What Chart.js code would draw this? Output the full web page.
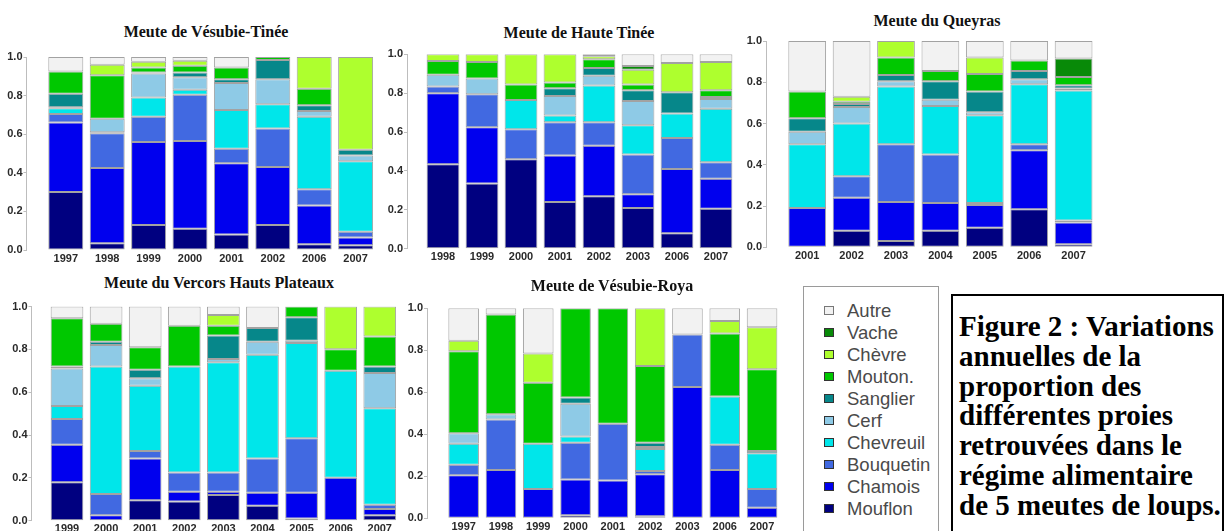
<!DOCTYPE html>
<html><head><meta charset="utf-8">
<script src="https://cdn.jsdelivr.net/npm/chart.js@4.4.0/dist/chart.umd.min.js"></script>
<style>
html,body{margin:0;padding:0;background:#fff;width:1225px;height:531px;overflow:hidden;position:relative}
canvas{position:absolute}
.ttl{position:absolute;font:bold 16px "Liberation Serif","Times New Roman",serif;color:#111;white-space:nowrap;transform:translate(-50%,-50%)}
#legend{position:absolute;left:803px;top:286px;width:136px;height:270px;border:1px solid #9a9a9a;box-sizing:border-box}
.li{position:absolute;left:0;width:136px;height:22px}
.sw{position:absolute;left:20px;top:6px;width:10px;height:9px;box-sizing:border-box;border:1px solid #333}
.lt{position:absolute;left:43px;top:0;line-height:22px;font:18.5px "Liberation Sans",Arial,sans-serif;color:#4a4a4a;white-space:nowrap}
#fig{position:absolute;left:951px;top:294px;width:273px;height:270px;border:2px solid #000;box-sizing:border-box;font:bold 29px "Liberation Serif","Times New Roman",serif;line-height:29.8px;padding:16px 0 0 6px;color:#000;white-space:nowrap}
</style>
</head><body>
<div id="fig">Figure 2 : Variations<br>annuelles de la<br>proportion des<br>différentes proies<br>retrouvées dans le<br>régime alimentaire<br>de 5 meutes de loups.</div>
<div id="legend"></div>
<script>
// ---- species (stack order bottom -> top) ----
const species = ['Mouflon','Chamois','Bouquetin','Chevreuil','Cerf','Sanglier','Mouton','Chèvre','Vache','Autre'];
const legendLabels = ['Mouflon','Chamois','Bouquetin','Chevreuil','Cerf','Sanglier','Mouton.','Chèvre','Vache','Autre'];
const speciesColors = ['#000080','#0000ee','#4169e1','#00e6ea','#8ecae6','#06878a','#00c800','#aeff2e','#088a08','#f2f2f2'];
const yTickLabels = ['0.0','0.2','0.4','0.6','0.8','1.0'];

// ---- Meute de Vésubie-Tinée ----
const vtYears = ['1997','1998','1999','2000','2001','2002','2006','2007'];
const vtMouflon   = [0.30, 0.035, 0.13, 0.11, 0.08, 0.13, 0.03, 0.025];
const vtChamois   = [0.36, 0.39, 0.43, 0.455, 0.37, 0.30, 0.20, 0.04];
const vtBouquetin = [0.045, 0.18, 0.13, 0.24, 0.075, 0.20, 0.085, 0.03];
const vtChevreuil = [0.03, 0.005, 0.10, 0.025, 0.20, 0.125, 0.375, 0.365];
const vtCerf      = [0.005, 0.07, 0.125, 0.065, 0.14, 0.13, 0.03, 0.03];
const vtSanglier  = [0.07, 0, 0.005, 0.025, 0.02, 0.10, 0.03, 0.03];
const vtMouton    = [0.115, 0.225, 0.025, 0.035, 0.06, 0.015, 0.085, 0];
const vtChevre    = [0, 0.055, 0.03, 0.025, 0, 0, 0.165, 0.48];
const vtVache     = [0, 0, 0, 0, 0, 0, 0, 0];
const vtAutre     = [0.075, 0.04, 0.025, 0.02, 0.055, 0, 0, 0];

// ---- Meute de Haute Tinée ----
const htYears = ['1998','1999','2000','2001','2002','2003','2006','2007'];
const htMouflon   = [0.435, 0.335, 0.46, 0.24, 0.27, 0.21, 0.08, 0.205];
const htChamois   = [0.365, 0.29, 0, 0.24, 0.26, 0.07, 0.33, 0.155];
const htBouquetin = [0.035, 0.17, 0.155, 0.17, 0.12, 0.205, 0.16, 0.085];
const htChevreuil = [0, 0, 0.15, 0.035, 0.19, 0.15, 0.125, 0.275];
const htCerf      = [0.06, 0.08, 0, 0.10, 0.05, 0.125, 0, 0.05];
const htSanglier  = [0, 0, 0, 0.04, 0.04, 0.055, 0.11, 0.01];
const htMouton    = [0.07, 0.085, 0.08, 0.03, 0.045, 0.03, 0, 0.035];
const htChevre    = [0.035, 0.04, 0.155, 0.145, 0.015, 0.075, 0.15, 0.145];
const htVache     = [0, 0, 0, 0, 0, 0.02, 0, 0];
const htAutre     = [0, 0, 0, 0, 0.01, 0.06, 0.045, 0.04];

// ---- Meute du Queyras ----
const qyYears = ['2001','2002','2003','2004','2005','2006','2007'];
const qyMouflon   = [0, 0.08, 0.03, 0.08, 0.095, 0.185, 0.015];
const qyChamois   = [0.19, 0.16, 0.19, 0.135, 0.11, 0.285, 0.105];
const qyBouquetin = [0, 0.105, 0.28, 0.235, 0.01, 0.03, 0.01];
const qyChevreuil = [0.31, 0.255, 0.28, 0.235, 0.425, 0.29, 0.63];
const qyCerf      = [0.06, 0.08, 0.025, 0.03, 0.015, 0.025, 0.01];
const qySanglier  = [0.065, 0.015, 0.03, 0.09, 0.10, 0.04, 0.015];
const qyMouton    = [0.13, 0.01, 0.085, 0.05, 0.085, 0.05, 0.04];
const qyChevre    = [0, 0.025, 0.08, 0, 0.08, 0, 0];
const qyVache     = [0, 0, 0, 0, 0, 0, 0.09];
const qyAutre     = [0.245, 0.27, 0, 0.145, 0.08, 0.095, 0.085];

// ---- Meute du Vercors Hauts Plateaux ----
const vcYears = ['1999','2000','2001','2002','2003','2004','2005','2006','2007'];
const vcMouflon   = [0.18, 0, 0.095, 0.09, 0.12, 0.07, 0.01, 0, 0.025];
const vcChamois   = [0.175, 0.025, 0.195, 0.045, 0.015, 0.06, 0.12, 0.20, 0.03];
const vcBouquetin = [0.12, 0.10, 0.035, 0.09, 0.09, 0.16, 0.255, 0, 0.02];
const vcChevreuil = [0.06, 0.595, 0.305, 0.495, 0.515, 0.485, 0.445, 0.50, 0.45];
const vcCerf      = [0.175, 0.10, 0.035, 0, 0.015, 0.06, 0.01, 0, 0.165];
const vcSanglier  = [0.01, 0.015, 0.04, 0, 0.11, 0.065, 0.11, 0, 0.03];
const vcMouton    = [0.225, 0.085, 0.105, 0.19, 0.045, 0, 0.05, 0.10, 0.14];
const vcChevre    = [0, 0, 0, 0, 0.05, 0, 0, 0.20, 0.14];
const vcVache     = [0, 0, 0, 0, 0, 0, 0, 0, 0];
const vcAutre     = [0.055, 0.08, 0.19, 0.09, 0.04, 0.10, 0, 0, 0];

// ---- Meute de Vésubie-Roya ----
const vrYears = ['1997','1998','1999','2000','2001','2002','2003','2006','2007'];
const vrMouflon   = [0, 0, 0, 0.015, 0, 0.01, 0, 0, 0];
const vrChamois   = [0.205, 0.23, 0.14, 0.17, 0.18, 0.20, 0.625, 0.23, 0.05];
const vrBouquetin = [0.05, 0.24, 0, 0.175, 0.27, 0.015, 0.25, 0.12, 0.09];
const vrChevreuil = [0.10, 0, 0.215, 0.03, 0, 0.105, 0, 0.23, 0.17];
const vrCerf      = [0.05, 0.025, 0, 0.155, 0, 0.01, 0, 0, 0];
const vrSanglier  = [0, 0, 0, 0.03, 0, 0.02, 0, 0, 0.01];
const vrMouton    = [0.39, 0.475, 0.29, 0.425, 0.55, 0.365, 0, 0.30, 0.39];
const vrChevre    = [0.05, 0, 0.14, 0, 0, 0.275, 0, 0.06, 0.20];
const vrVache     = [0, 0, 0, 0, 0, 0, 0, 0, 0];
const vrAutre     = [0.155, 0.03, 0.215, 0, 0, 0, 0.125, 0.06, 0.09];

const panels = [
  {title:'Meute de Vésubie-Tinée', years:vtYears,
   series:[vtMouflon,vtChamois,vtBouquetin,vtChevreuil,vtCerf,vtSanglier,vtMouton,vtChevre,vtVache,vtAutre],
   geo:{titleX:206,titleY:32,axisX:26.5,areaLeft:45.1,areaRight:376.3,top:57,bottom:250,barPct:0.845}},
  {title:'Meute de Haute Tinée', years:htYears,
   series:[htMouflon,htChamois,htBouquetin,htChevreuil,htCerf,htSanglier,htMouton,htChevre,htVache,htAutre],
   geo:{titleX:579,titleY:33,axisX:407,areaLeft:423.5,areaRight:735.5,top:54.3,bottom:248.7,barPct:0.84}},
  {title:'Meute du Queyras', years:qyYears,
   series:[qyMouflon,qyChamois,qyBouquetin,qyChevreuil,qyCerf,qySanglier,qyMouton,qyChevre,qyVache,qyAutre],
   geo:{titleX:937,titleY:21,axisX:766,areaLeft:785,areaRight:1095.8,top:41,bottom:247.3,barPct:0.85}},
  {title:'Meute du Vercors Hauts Plateaux', years:vcYears,
   series:[vcMouflon,vcChamois,vcBouquetin,vcChevreuil,vcCerf,vcSanglier,vcMouton,vcChevre,vcVache,vcAutre],
   geo:{titleX:219,titleY:283,axisX:31.5,areaLeft:47.45,areaRight:399.3,top:306.5,bottom:520.7,barPct:0.836}},
  {title:'Meute de Vésubie-Roya', years:vrYears,
   series:[vrMouflon,vrChamois,vrBouquetin,vrChevreuil,vrCerf,vrSanglier,vrMouton,vrChevre,vrVache,vrAutre],
   geo:{titleX:612,titleY:286,axisX:427,areaLeft:445,areaRight:780.7,top:308.3,bottom:518.3,barPct:0.82}}
];

const tickFont = {family:"'Liberation Sans',Arial,sans-serif", size:11, weight:'bold'};

function makePanel(p, idx){
  const g = p.geo;
  const t = document.createElement('div');
  t.className='ttl'; t.textContent=p.title;
  t.style.left=g.titleX+'px'; t.style.top=g.titleY+'px';
  document.body.appendChild(t);

  const L = Math.max(0, Math.floor(g.axisX - 30));
  const yw = g.axisX - L;
  const gap = g.areaLeft - g.axisX;
  const T = Math.floor(g.top - 10);
  const pt = g.top - T;
  const xh = 20;
  const H = Math.ceil(g.bottom + xh - T);
  const pb = (T + H - xh) - g.bottom;
  const W = Math.ceil(g.areaRight + 6 - L);
  const pr = (L + W) - g.areaRight;

  const cv = document.createElement('canvas');
  cv.width = W; cv.height = H;
  cv.style.left = L+'px'; cv.style.top = T+'px';
  cv.style.width = W+'px'; cv.style.height = H+'px';
  document.body.appendChild(cv);

  const datasets = species.map((name,i)=>({
    label:name,
    data:p.series[i].map(v => v === 0 ? null : v),
    backgroundColor:speciesColors[i],
    borderColor:'rgba(70,70,70,0.5)',
    borderWidth:1,
    borderSkipped:false,
    yAxisID:'y',
    barPercentage:g.barPct,
    categoryPercentage:1.0
  }));

  new Chart(cv, {
    type:'bar',
    data:{labels:p.years, datasets},
    options:{
      responsive:false, animation:false, devicePixelRatio:1,
      layout:{padding:{left:0, right:pr, top:pt, bottom:pb}},
      plugins:{legend:{display:false}, tooltip:{enabled:false}, title:{display:false}},
      scales:{
        x:{type:'category', stacked:true, offset:true,
           grid:{display:false, drawTicks:false}, border:{display:false},
           ticks:{font:tickFont, color:'#2a2a2a', padding:2, maxRotation:0, autoSkip:false},
           afterFit:(s)=>{s.height = xh;}},
        y:{type:'linear', stacked:true, min:0, max:1, position:'left', weight:1,
           grid:{display:true, drawOnChartArea:false, drawTicks:true, tickLength:3, color:'#bdbdbd'},
           border:{display:true, color:'#bdbdbd', width:1},
           ticks:{stepSize:0.2, font:tickFont, color:'#2a2a2a', padding:1,
                  callback:(v,i)=>yTickLabels[i]},
           afterFit:(s)=>{s.width = yw;}},
        pad:{type:'linear', axis:'y', position:'left', weight:0, display:true,
             grid:{display:false, drawTicks:false}, border:{display:false},
             ticks:{display:false},
             afterFit:(s)=>{s.width = gap;}}
      }
    }
  });
}
panels.forEach(makePanel);

// legend box (top item = last species)
const lg = document.getElementById('legend');
for (let k = 0; k < species.length; k++){
  const i = species.length - 1 - k;
  const row = document.createElement('div');
  row.className='li';
  row.style.top = (13.5 + 22.1*k - 1) + 'px';
  const sw = document.createElement('div'); sw.className='sw';
  sw.style.background = speciesColors[i];
  if (i === species.length-1) sw.style.borderColor = '#777';
  const tx = document.createElement('div'); tx.className='lt'; tx.textContent = legendLabels[i];
  row.appendChild(sw); row.appendChild(tx); lg.appendChild(row);
}
</script>
</body></html>
